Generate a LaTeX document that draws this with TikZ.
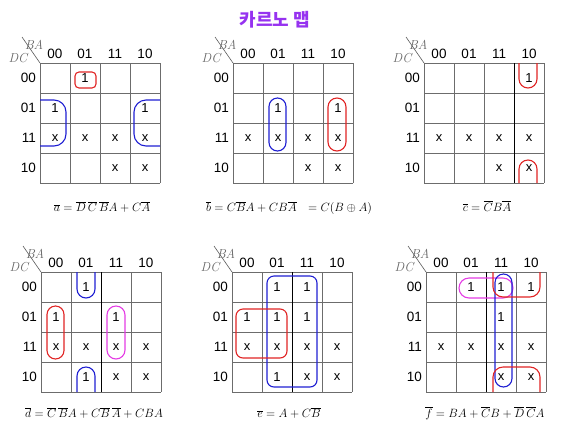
\documentclass[tikz,border=0pt]{standalone}
\usepackage{fontspec}
\setsansfont{Liberation Sans}
\newfontfamily\krfont{Noto Sans CJK KR}
\usepackage{amsmath}

\definecolor{loopred}{RGB}{224,36,36}
\definecolor{loopblue}{RGB}{30,30,210}
\definecolor{loopmag}{RGB}{228,60,228}
\definecolor{titlepurple}{RGB}{150,50,240}

% grid, headers and corner of one map, drawn at the scope origin
\newcommand\kgrid[1]{%
	\foreach \i in {0,...,4} {
		\draw[gridline] (\i*30,0) -- (\i*30,120);
		\draw[gridline] (0,\i*30) -- (120,\i*30);
	}
	\foreach \g [count=\k from 0] in {00,01,11,10} {
		\node[head] (#1-c\g) at (\k*30+15,-9) {\g};
		\node[head,anchor=east] (#1-r\g) at (-4,\k*30+15) {\g};
	}
	\coordinate (#1-tl) at (0,0);
	\coordinate (#1-dg) at (-18,-26);
	\draw[gray!70!black,line width=0.6pt] (#1-dg) -- (#1-tl);
	\node[corner] (#1-ba) at (-6,-18) {BA};
	\node[corner] (#1-dc) at (-22,-5) {DC};
}
% cell entries: row/column/value
\newcommand\kcells[2]{%
	\foreach \r/\c/\v in {#2}
		\node[cell] (#1-\r\c) at (\c*30+15,\r*30+15) {\v};
}

\begin{document}
\begin{tikzpicture}[x=1pt,y=-1pt,
		gridline/.style={draw=gray!85!black,line width=0.8pt},
		darkline/.style={draw=black,line width=0.8pt},
		head/.style={font=\sffamily\fontsize{13.5}{13.5}\selectfont,inner sep=0pt},
		cell/.style={font=\sffamily\fontsize{13}{13}\selectfont,inner sep=0pt},
		corner/.style={font=\fontsize{13}{13}\selectfont\itshape,text=gray!80!black,inner sep=0pt},
		formula/.style={font=\fontsize{12.5}{12.5}\selectfont,inner sep=0pt},
		redloop/.style={draw=loopred,line width=1.1pt},
		blueloop/.style={draw=loopblue,line width=1.1pt},
		magloop/.style={draw=loopmag,line width=1.1pt}
	]
	\useasboundingbox (0,0) rectangle (583,440);
	\node[font=\krfont\bfseries\fontsize{18}{18}\selectfont,text=titlepurple] (title) at (275,20) {카르노 맵};

	% map a
	\begin{scope}[shift={(40,63)}]
		\kgrid{a}
		\kcells{a}{0/1/1,1/0/1,1/3/1,2/0/x,2/1/x,2/2/x,2/3/x,3/2/x,3/3/x}
		\draw[redloop,rounded corners=4] (35,9) rectangle (56,25);
		\draw[blueloop,rounded corners=12] (0,37) -- (26,37) -- (26,83) -- (0,83);
		\draw[blueloop,rounded corners=12] (120,37) -- (94,37) -- (94,83) -- (120,83);
	\end{scope}
	\node[formula] (a-eq) at (102,207) {$\overline{a} = \overline{D}\,\overline{C}\,\overline{B}A + C\overline{A}$};

	% map b
	\begin{scope}[shift={(233,63)}]
		\kgrid{b}
		\kcells{b}{1/1/1,1/3/1,2/0/x,2/1/x,2/2/x,2/3/x,3/2/x,3/3/x}
		\draw[blueloop,rounded corners=8.5] (36,35) rectangle (53,88);
		\draw[redloop,rounded corners=9] (95,35) rectangle (113,88);
	\end{scope}
	\node[formula] (b-eq) at (289,208) {$\overline{b} = C\overline{B}A + CB\overline{A}\ \ = C(B \oplus A)$};

	% map c
	\begin{scope}[shift={(424,63)}]
		\kgrid{c}
		\draw[darkline] (90,0) -- (90,120);
		\kcells{c}{0/3/1,2/0/x,2/1/x,2/2/x,2/3/x,3/2/x,3/3/x}
		\draw[redloop,rounded corners=9] (95,0) -- (95,25) -- (113,25) -- (113,0);
		\draw[redloop,rounded corners=9] (95,120) -- (95,97) -- (113,97) -- (113,120);
	\end{scope}
	\node[formula] (c-eq) at (487,206) {$\overline{c} = \overline{C}B\overline{A}$};

	% map d
	\begin{scope}[shift={(41,272)}]
		\kgrid{d}
		\draw[darkline] (60,0) -- (60,120);
		\kcells{d}{0/1/1,1/0/1,1/2/1,3/1/1,2/0/x,2/1/x,2/2/x,2/3/x,3/2/x,3/3/x}
		\draw[blueloop,rounded corners=9] (36,0) -- (36,26) -- (54,26) -- (54,0);
		\draw[blueloop,rounded corners=9] (36,120) -- (36,95) -- (54,95) -- (54,120);
		\draw[redloop,rounded corners=8.5] (6,34) rectangle (23,87);
		\draw[magloop,rounded corners=9] (66,34) rectangle (84,87);
	\end{scope}
	\node[formula] (d-eq) at (94,413) {$\overline{d} = \overline{C}\,\overline{B}A + C\overline{B}\,\overline{A} + CBA$};

	% map e
	\begin{scope}[shift={(232,272)}]
		\kgrid{e}
		\draw[darkline] (60,0) -- (60,120);
		\kcells{e}{0/1/1,0/2/1,1/0/1,1/1/1,1/2/1,3/1/1,2/0/x,2/1/x,2/2/x,2/3/x,3/2/x,3/3/x}
		\draw[blueloop,rounded corners=7] (35,4) rectangle (85,115);
		\draw[redloop,rounded corners=7] (4,37) rectangle (55,86);
	\end{scope}
	\node[formula] (e-eq) at (289,413) {$\overline{e} = A + C\overline{B}$};

	% map f
	\begin{scope}[shift={(426,272)}]
		\kgrid{f}
		\draw[darkline] (60,0) -- (60,120);
		\kcells{f}{0/1/1,0/2/1,0/3/1,1/2/1,2/0/x,2/1/x,2/2/x,2/3/x,3/2/x,3/3/x}
		\draw[magloop,rounded corners=10] (33,6) rectangle (87,26);
		\draw[blueloop,rounded corners=8.5] (69,2) rectangle (86,115);
		\draw[redloop,rounded corners=10] (67,0) -- (67,25) -- (114,25) -- (114,0);
		\draw[redloop,rounded corners=10] (67,120) -- (67,95) -- (114,95) -- (114,120);
	\end{scope}
	\node[formula] (f-eq) at (485,413) {$\overline{f} = BA + \overline{C}B + \overline{D}\,\overline{C}A$};
\end{tikzpicture}
\end{document}
